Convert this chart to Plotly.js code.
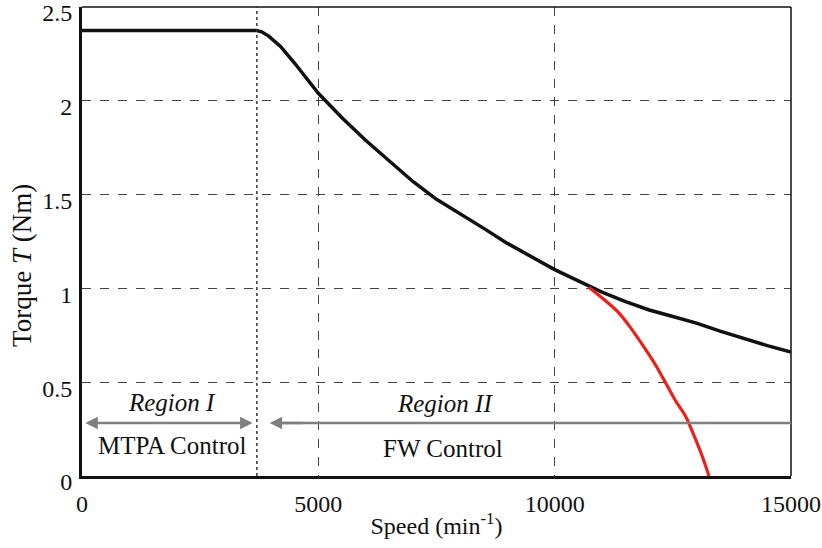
<!DOCTYPE html>
<html><head><meta charset="utf-8">
<script src="https://cdn.plot.ly/plotly-3.0.1.min.js"></script>
<style>html,body{margin:0;padding:0;background:#fff}</style>
</head><body>
<div id="chart" style="width:822px;height:548px"></div>
<script>
// Data
const speedBlack = [0, 3700, 3800, 3950, 4200, 4500, 5000, 5500, 6000, 6500, 7000, 7500, 8000, 8500, 9000, 9500, 10000, 10500, 11000, 11500, 12000, 12500, 13000, 13500, 14000, 14500, 15000];
const torqueBlack = [2.375, 2.375, 2.368, 2.345, 2.29, 2.2, 2.04, 1.91, 1.79, 1.68, 1.57, 1.475, 1.40, 1.32, 1.24, 1.17, 1.10, 1.04, 0.98, 0.93, 0.885, 0.85, 0.815, 0.772, 0.732, 0.695, 0.66];
const speedRed = [10730, 11000, 11368, 11650, 11930, 12150, 12352, 12560, 12775, 12986, 13130, 13265];
const torqueRed = [1.005, 0.95, 0.867, 0.775, 0.672, 0.585, 0.494, 0.40, 0.316, 0.192, 0.10, 0.0];
const xTicks = [0, 5000, 10000, 15000];
const yTicks = [0, 0.5, 1, 1.5, 2, 2.5];
const boundarySpeed = 3700;
const regionLabels = ["Region I", "Region II"];
const controlLabels = ["MTPA Control", "FW Control"];
const xTitle = "Speed (min<sup>-1</sup>)";
const yTitle = "Torque <i>T</i> (Nm)";

const font = "'Liberation Serif', 'Times New Roman', serif";
const traces = [
  {x: speedBlack, y: torqueBlack, mode: "lines", line: {color: "#111", width: 3.5, shape: "linear"}, hoverinfo: "skip"},
  {x: speedRed, y: torqueRed, mode: "lines", line: {color: "#e8221a", width: 3.2, shape: "spline", smoothing: 0.8}, hoverinfo: "skip"}
];
const layout = {
  width: 822, height: 548,
  margin: {l: 82, r: 31, t: 7, b: 72},
  paper_bgcolor: "#fff", plot_bgcolor: "#fff",
  showlegend: false,
  font: {family: font, color: "#111", size: 24},
  xaxis: {
    range: [0, 15000], tickvals: xTicks, ticktext: xTicks.map(String),
    showgrid: true, gridcolor: "#444", griddash: "dash", gridwidth: 1,
    showline: true, linecolor: "#111", linewidth: 3, zeroline: false,
    ticks: "", tickfont: {size: 24, family: font}, ticklabelstandoff: 4,
    ticklabeloverflow: "allow",
    title: {text: xTitle, font: {size: 24, family: font}, standoff: 2}
  },
  yaxis: {
    range: [0, 2.5], tickvals: yTicks, ticktext: yTicks.map(String),
    showgrid: true, gridcolor: "#444", griddash: "dash", gridwidth: 1,
    showline: true, linecolor: "#111", linewidth: 3, zeroline: false,
    ticks: "", tickfont: {size: 24, family: font}, ticklabelstandoff: 2,
    ticklabelshift: 6, ticklabeloverflow: "allow"
  },
  shapes: [
    {type: "line", xref: "paper", yref: "paper", x0: 0, x1: 1, y0: 1, y1: 1, line: {color: "#111", width: 1.5}},
    {type: "line", xref: "paper", yref: "paper", x0: 1, x1: 1, y0: 0, y1: 1, line: {color: "#111", width: 1.5}},
    {type: "line", xref: "x", yref: "paper", x0: boundarySpeed, x1: boundarySpeed, y0: 0, y1: 1, line: {color: "#333", width: 1.5, dash: "dot"}},
    {type: "line", xref: "x", yref: "y", x0: 4200, x1: 15000, y0: 0.283, y1: 0.283, line: {color: "#808080", width: 2.5}}
  ],
  annotations: [
    {x: -0.0846, y: 1.12, xref: "paper", yref: "y", text: yTitle, textangle: -90, showarrow: false, xanchor: "center", yanchor: "middle", font: {size: 27, family: font}},
    {x: 1900, y: 0.394, xref: "x", yref: "y", text: "<i>" + regionLabels[0] + "</i>", showarrow: false, font: {size: 25, family: font}},
    {x: 1900, y: 0.16, xref: "x", yref: "y", text: controlLabels[0], showarrow: false, font: {size: 25, family: font}},
    {x: 7670, y: 0.384, xref: "x", yref: "y", text: "<i>" + regionLabels[1] + "</i>", showarrow: false, font: {size: 25, family: font}},
    {x: 7627, y: 0.144, xref: "x", yref: "y", text: controlLabels[1], showarrow: false, font: {size: 25, family: font}},
    {x: 70, y: 0.283, ax: 3640, ay: 0.283, xref: "x", yref: "y", axref: "x", ayref: "y", text: "", showarrow: true, arrowhead: 2, startarrowhead: 2, arrowside: "end+start", arrowsize: 1, arrowwidth: 2.5, arrowcolor: "#808080"},
    {x: 3970, y: 0.283, ax: 4700, ay: 0.283, xref: "x", yref: "y", axref: "x", ayref: "y", text: "", showarrow: true, arrowhead: 2, arrowsize: 1, arrowwidth: 2.5, arrowcolor: "#808080"}
  ]
};
Plotly.newPlot("chart", traces, layout, {staticPlot: true, displayModeBar: false});
</script>
</body></html>
